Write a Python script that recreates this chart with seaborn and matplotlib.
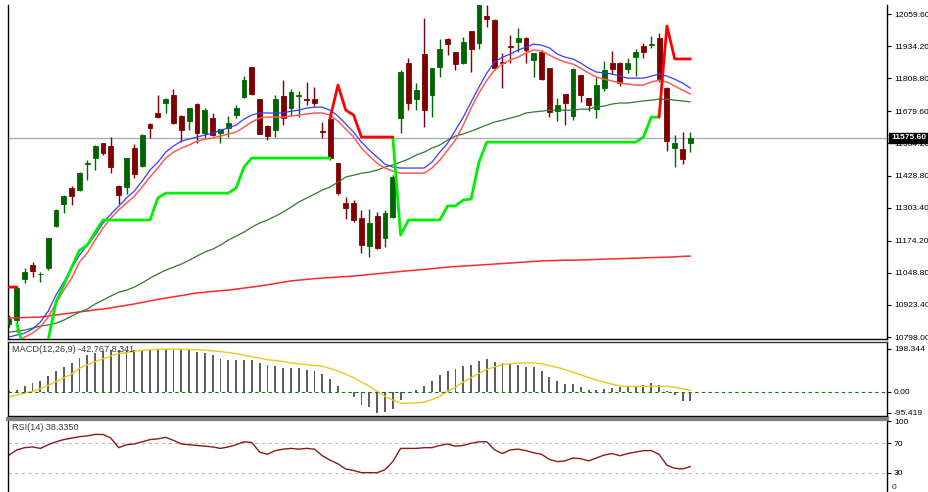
import matplotlib
matplotlib.use('Agg')
import matplotlib.pyplot as plt
import matplotlib.transforms as mtransforms
import seaborn as sns
import numpy as np
import pandas as pd

nan = np.nan

# price bars
opens = [10849, 10864, 11024, 11079, 11043, 11067, 11231, 11317, 11380, 11372,
         11475, 11497, 11555, 11544, 11388, 11384, 11536, 11466, 11630, 11673,
         11712, 11743, 11661, 11641, 11708, 11594, 11653, 11594, 11614, 11665,
         11735, 11852, 11727, 11622, 11606, 11739, 11692, 11741, 11726, 11727,
         11602, 11649, 11477, 11321, 11321, 11262, 11153, 11270, 11184, 11266,
         11653, 11868, 11727, 11903, 11743, 11852, 11962, 11911, 11868, 11993,
         11946, 12052, 12036, 11874, 11934, 11950, 11966, 11880, 11911, 11848,
         11680, 11747, 11661, 11821, 11731, 11688, 11770, 11868, 11868, 11845,
         11891, 11934, 11940, 11966, 11770, 11536, 11532, 11556]
highs = [10884, 10997, 11067, 11091, 11052, 11186, 11298, 11352, 11388, 11442,
         11489, 11547, 11557, 11579, 11390, 11499, 11552, 11589, 11634, 11743,
         11731, 11766, 11665, 11694, 11712, 11692, 11673, 11612, 11661, 11704,
         11817, 11854, 11729, 11626, 11743, 11802, 11766, 11759, 11794, 11774,
         11637, 11657, 11479, 11345, 11333, 11294, 11298, 11286, 11294, 11430,
         11841, 11887, 11790, 12044, 11850, 11962, 11964, 11913, 11970, 11995,
         12100, 12094, 12040, 11907, 11977, 12005, 11968, 11909, 11919, 11850,
         11731, 11749, 11847, 11823, 11733, 11813, 11876, 11915, 11872, 11887,
         11923, 11946, 11973, 11985, 11774, 11587, 11598, 11598]
lows = [10837, 10817, 11009, 11032, 11012, 11059, 11227, 11282, 11313, 11368,
        11411, 11450, 11509, 11438, 11317, 11356, 11419, 11462, 11575, 11655,
        11673, 11630, 11559, 11606, 11555, 11575, 11583, 11555, 11579, 11653,
        11733, 11743, 11589, 11567, 11579, 11626, 11661, 11657, 11704, 11700,
        11575, 11489, 11352, 11259, 11247, 11126, 11110, 11141, 11149, 11262,
        11594, 11684, 11684, 11618, 11657, 11813, 11899, 11841, 11864, 11833,
        11923, 12009, 11841, 11770, 11868, 11911, 11868, 11813, 11801, 11657,
        11641, 11626, 11645, 11716, 11680, 11653, 11759, 11825, 11778, 11829,
        11817, 11887, 11926, 11794, 11524, 11462, 11473, 11520]
closes = [10868, 10989, 11052, 11055, 11045, 11184, 11294, 11348, 11348, 11438,
          11479, 11544, 11516, 11462, 11352, 11497, 11434, 11587, 11614, 11657,
          11727, 11634, 11606, 11692, 11594, 11684, 11587, 11610, 11634, 11692,
          11802, 11747, 11591, 11583, 11727, 11653, 11755, 11743, 11722, 11712,
          11598, 11497, 11360, 11302, 11255, 11157, 11243, 11145, 11282, 11423,
          11833, 11712, 11762, 11684, 11848, 11923, 11942, 11864, 11950, 11923,
          12095, 12040, 11848, 11870, 11930, 11966, 11919, 11907, 11805, 11677,
          11704, 11712, 11845, 11743, 11704, 11782, 11841, 11845, 11790, 11868,
          11911, 11911, 11942, 11802, 11563, 11555, 11493, 11575.6]

# moving averages on the price chart
ma_fast = [10798, 10806, 10813, 10829, 10856, 10899, 10962, 11013, 11067, 11118,
           11157, 11196, 11243, 11278, 11309, 11341, 11368, 11407, 11450, 11481,
           11520, 11544, 11563, 11571, 11579, 11587, 11594, 11606, 11614, 11626,
           11649, 11665, 11673, 11673, 11673, 11673, 11680, 11684, 11692, 11696,
           11696, 11684, 11661, 11630, 11598, 11559, 11528, 11501, 11473, 11462,
           11458, 11458, 11458, 11458, 11481, 11520, 11555, 11606, 11657, 11716,
           11774, 11829, 11872, 11891, 11903, 11919, 11930, 11942, 11938, 11927,
           11903, 11891, 11884, 11868, 11848, 11833, 11829, 11825, 11817, 11809,
           11809, 11809, 11817, 11825, 11817, 11805, 11790, 11770]
ma_slow = [10766, 10782, 10798, 10813, 10837, 10876, 10930, 10981, 11028, 11091,
           11126, 11177, 11224, 11262, 11294, 11321, 11348, 11384, 11423, 11458,
           11497, 11520, 11536, 11548, 11563, 11571, 11575, 11583, 11591, 11598,
           11618, 11638, 11653, 11657, 11657, 11657, 11661, 11665, 11669, 11673,
           11673, 11665, 11641, 11610, 11579, 11536, 11505, 11477, 11458, 11446,
           11438, 11438, 11438, 11438, 11458, 11489, 11528, 11567, 11626, 11692,
           11751, 11801, 11841, 11864, 11880, 11891, 11907, 11919, 11915, 11899,
           11884, 11872, 11864, 11848, 11829, 11813, 11805, 11798, 11790, 11786,
           11782, 11782, 11794, 11801, 11794, 11778, 11762, 11747]
ma_50 = [10817, 10821, 10825, 10833, 10841, 10845, 10852, 10864, 10880, 10895,
         10907, 10927, 10942, 10958, 10973, 10981, 10993, 11009, 11028, 11044,
         11059, 11071, 11083, 11098, 11114, 11130, 11141, 11157, 11177, 11192,
         11208, 11227, 11243, 11255, 11270, 11286, 11305, 11325, 11341, 11356,
         11372, 11384, 11403, 11423, 11430, 11438, 11442, 11450, 11462, 11470,
         11481, 11493, 11509, 11520, 11536, 11548, 11567, 11583, 11591, 11602,
         11614, 11626, 11638, 11645, 11653, 11661, 11673, 11677, 11680, 11684,
         11684, 11684, 11684, 11688, 11688, 11696, 11700, 11708, 11712, 11712,
         11716, 11720, 11723, 11727, 11727, 11723, 11720, 11716]
ma_200 = [10872, 10873, 10874, 10875, 10876, 10880, 10884, 10888, 10892, 10896,
          10900, 10904, 10907, 10912, 10917, 10922, 10927, 10933, 10939, 10945,
          10950, 10955, 10960, 10965, 10970, 10973, 10976, 10979, 10981, 10985,
          10989, 10993, 10997, 11002, 11007, 11012, 11017, 11020, 11023, 11026,
          11028, 11030, 11032, 11034, 11036, 11039, 11042, 11045, 11048, 11051,
          11054, 11057, 11059, 11062, 11065, 11068, 11071, 11073, 11075, 11077,
          11079, 11081, 11083, 11085, 11087, 11089, 11091, 11093, 11095, 11096,
          11097, 11098, 11098, 11099, 11100, 11101, 11102, 11103, 11104, 11105,
          11106, 11107, 11108, 11109, 11110, 11111, 11113, 11114]

# trailing stop (up / down)
stop_up = [nan, 10850, 10740, 10700, 10650, 10786, 10935, 11001, 11071, 11137,
           11157, 11208, 11255, 11255, 11255, 11255, 11255, 11255, 11255, 11341,
           11360, 11360, 11360, 11360, 11360, 11360, 11360, 11360, 11360, 11380,
           11462, 11497, 11497, 11497, 11497, 11497, 11497, 11497, 11497, 11497,
           11497, 11497, nan, nan, nan, nan, nan, nan, nan, 11579,
           11196, 11255, 11255, 11255, 11255, 11255, 11310, 11310, 11333, 11337,
           11481, 11559, 11559, 11559, 11559, 11559, 11559, 11559, 11559, 11559,
           11559, 11559, 11559, 11559, 11559, 11559, 11559, 11559, 11559, 11559,
           11559, 11579, 11657, 11657, nan, nan, nan, nan]
stop_dn = [10993, 10993, nan, nan, nan, nan, nan, nan, nan, nan,
           nan, nan, nan, nan, nan, nan, nan, nan, nan, nan,
           nan, nan, nan, nan, nan, nan, nan, nan, nan, nan,
           nan, nan, nan, nan, nan, nan, nan, nan, nan, nan,
           nan, 11653, 11782, 11684, 11665, 11579, 11579, 11579, 11579, 11579,
           nan, nan, nan, nan, nan, nan, nan, nan, nan, nan,
           nan, nan, nan, nan, nan, nan, nan, nan, nan, nan,
           nan, nan, nan, nan, nan, nan, nan, nan, nan, nan,
           nan, nan, nan, 11657, 12013, 11884, 11884, 11884]

# MACD(12,26,9)
macd_main = [3, 11, 28, 42, 51, 74, 97, 115, 134, 157,
             171, 180, 189, 194, 195, 195, 195, 190, 195, 198.344,
             198, 195, 195, 195, 184, 180, 169, 154, 149, 146,
             149, 149, 134, 123, 119, 111, 109, 109, 103, 95,
             83, 59, 26, 2, -24, -59, -71, -95.419, -92, -78,
             -36, -3, 11, 26, 49, 77, 98, 107, 119, 126,
             144, 154, 138, 134, 129, 126, 115, 114, 95, 68,
             49, 37, 37, 22, 11, 11, 14, 18, 22, 21,
             21, 31, 42, 31, 6, -12, -40, -42.767]
macd_signal = [-23, -14, -5, 2, 16, 30, 48, 65, 83, 110,
               126, 140, 153, 166, 177, 182, 188, 192, 195, 197,
               198, 198, 197, 196, 195, 193, 190, 186, 182, 177,
               170, 163, 156, 149, 145, 141, 134, 130, 126, 122,
               119, 108, 97, 82, 66, 46, 27, 3, -20, -37,
               -51, -52, -50, -47, -35, -20, 4, 21, 46, 66,
               86, 104, 116, 126, 130, 133, 134, 134, 130, 122,
               114, 103, 92, 79, 67, 55, 45, 36, 28, 26,
               26, 26, 26, 26, 26, 22, 15, 8.341]

# RSI(14)
rsi = [54, 61, 64, 65, 63, 68, 72, 75, 77, 79,
       80, 82, 82, 77, 64, 68, 69, 72, 75, 76,
       78, 74, 69, 68, 67, 66, 65, 63, 65, 68,
       72, 71, 58, 55, 60, 62, 63, 62, 63, 62,
       53, 47, 42, 35, 33, 30, 30, 30, 34, 45,
       63, 63, 63, 64, 64, 67, 69, 66, 67, 70,
       72, 72, 61, 56, 61, 62, 60, 57, 55, 48,
       45, 46, 50, 49, 46, 50, 54, 56, 53, 56,
       58, 60, 60, 55, 40, 36, 35, 38.335]

price_ticks = [12059.60, 11934.20, 11808.80, 11679.60, 11554.20, 11428.80,
               11303.40, 11174.20, 11048.80, 10923.40, 10798.00]
last_price = 11575.60
macd_ticks = [198.344, 0.0, -95.419]
macd_tick_labels = ['198.344', '0.00', '-95.419']
rsi_levels = [70, 30]

df = pd.DataFrame({'bar': np.arange(len(opens)), 'open': opens, 'high': highs,
                   'low': lows, 'close': closes, 'ma_fast': ma_fast,
                   'ma_slow': ma_slow, 'ma_50': ma_50, 'ma_200': ma_200,
                   'stop_up': stop_up, 'stop_dn': stop_dn, 'macd': macd_main,
                   'signal': macd_signal, 'rsi': rsi})

sns.set_style('white')
plt.rcParams['font.family'] = ['Liberation Sans', 'DejaVu Sans']

W, H = 929, 492
fig = plt.figure(figsize=(W / 100, H / 100), dpi=100)
left, width = 8 / W, 879 / W
ax = fig.add_axes([left, 1 - 339 / H, width, 334 / H])
ax_macd = fig.add_axes([left, 1 - 416 / H, width, 74 / H])
ax_rsi = fig.add_axes([left, 0, width, 73 / H])

xlim = (-0.13, 112.1)
green, maroon = '#006400', '#800000'

# --- price panel
up = df['close'] >= df['open']
cols = np.where(up, green, maroon)
ax.axhline(last_price, color='#A8B0BC', lw=1, zorder=1)
ax.vlines(df['bar'], df['low'], df['high'], colors=cols, lw=1, zorder=2)
body = (df['close'] - df['open']).abs().clip(lower=2)
ax.bar(df['bar'], body, bottom=df[['open', 'close']].min(axis=1), width=0.62,
       color=cols, edgecolor=cols, lw=0.6, zorder=3)

sns.lineplot(data=df, x='bar', y='ma_200', color='#FF2A2A', lw=1.1, ax=ax, legend=False, zorder=4)
sns.lineplot(data=df, x='bar', y='ma_50', color='#2E7A2E', lw=0.9, ax=ax, legend=False, zorder=4)
sns.lineplot(data=df, x='bar', y='ma_slow', color='#FF5A5A', lw=1.1, ax=ax, legend=False, zorder=4)
sns.lineplot(data=df, x='bar', y='ma_fast', color='#3A3AFF', lw=0.9, ax=ax, legend=False, zorder=4)
ax.plot(df['bar'], df['stop_up'], color='#00EE00', lw=2, zorder=5)
ax.plot(df['bar'], df['stop_dn'], color='#FF0000', lw=2, zorder=5)

ax.set_xlim(*xlim)
ax.set_ylim(10790.2, 12094.8)
ax.set_yticks(price_ticks)
ax.set_yticklabels([f'{v:.2f}' for v in price_ticks])

lbl_tr = mtransforms.blended_transform_factory(ax.transAxes, ax.transData)
ax.text(1 + 4 / 879, last_price, f'{last_price:.2f}', transform=lbl_tr, ha='left',
        va='center', color='white', fontsize=6.1, fontweight='bold', clip_on=False,
        zorder=10, bbox=dict(facecolor='black', edgecolor='black', pad=1.2))

# --- MACD panel
ax_macd.bar(df['bar'], df['macd'], width=0.24, color='#5E5E5E', lw=0)
sns.lineplot(data=df, x='bar', y='signal', color='#F2C51C', lw=1, ax=ax_macd, legend=False)
ax_macd.axhline(0, color='#008000', lw=0.8, ls=(0, (3, 3)))
ax_macd.set_xlim(*xlim)
ax_macd.set_ylim(-110.7, 230.6)
ax_macd.set_yticks(macd_ticks)
ax_macd.set_yticklabels(macd_tick_labels)
ax_macd.text(4 / 879, 0.9, f'MACD(12,26,9) {macd_main[-1]:.3f} {macd_signal[-1]:.3f}',
             transform=ax_macd.transAxes, fontsize=6.6, color='#3A3A3A', va='center')

# --- RSI panel
for lv in rsi_levels:
    ax_rsi.axhline(lv, color='#BBBBBB', lw=0.8, ls=(0, (3, 3)))
sns.lineplot(data=df, x='bar', y='rsi', color='#8B1A1A', lw=1, ax=ax_rsi, legend=False)
ax_rsi.set_xlim(*xlim)
ax_rsi.set_ylim(3.7, 103)
ax_rsi.set_yticks([100] + rsi_levels)
ax_rsi.set_yticklabels(['100'] + [str(v) for v in rsi_levels])
ax_rsi.text(1 + 5 / 879, 0.06, '0', transform=ax_rsi.transAxes, fontsize=6.1,
            va='center', ha='left', clip_on=False)
ax_rsi.text(4 / 879, 0.89, f'RSI(14) {rsi[-1]:.4f}', transform=ax_rsi.transAxes,
            fontsize=6.6, color='#3A3A3A', va='center')

for a in (ax, ax_macd, ax_rsi):
    a.set_xlabel('')
    a.set_ylabel('')
    a.set_xticks([])
    a.yaxis.tick_right()
    a.tick_params(axis='y', direction='out', length=3, width=0.8, labelsize=6.1,
                  pad=2, colors='black', right=True, left=False)
    for s in a.spines.values():
        s.set_color('black')
        s.set_linewidth(1)

ax.spines['top'].set_visible(False)
ax_macd.spines['top'].set_color('#333333')
ax_rsi.spines['bottom'].set_visible(False)
ax_rsi.spines['top'].set_color('#808080')
ax_rsi.spines['top'].set_linewidth(3)

fig.savefig('out.png', dpi=100)
